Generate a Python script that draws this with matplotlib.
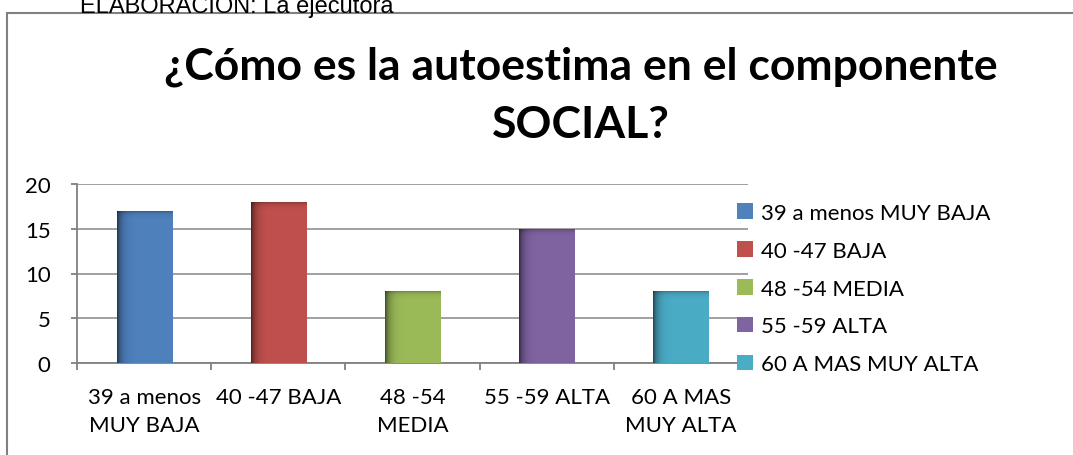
import numpy as np
import matplotlib
matplotlib.use("Agg")
import matplotlib.pyplot as plt
from matplotlib.patches import Rectangle
from matplotlib.colors import to_rgb

# data
categories = ["39 a menos\nMUY BAJA", "40 -47 BAJA", "48 -54\nMEDIA", "55 -59 ALTA", "60 A MAS\nMUY ALTA"]
legend_labels = ["39 a menos MUY BAJA", "40 -47 BAJA", "48 -54 MEDIA", "55 -59 ALTA", "60 A MAS MUY ALTA"]
values = [17, 18, 8, 15, 8]
colors = ["#4F81BD", "#C0504D", "#9BBB59", "#8064A2", "#4BACC6"]
yticks = [0, 5, 10, 15, 20]

plt.rcParams['font.family'] = ['Lato', 'DejaVu Sans']

fig = plt.figure(figsize=(10.73, 4.56), dpi=100)

# outer frame of the chart
fig.patches.append(Rectangle((7 / 1073, -0.1), 1.2, 1 - 14 / 456 + 0.1, transform=fig.transFigure,
                             fill=False, edgecolor="#808080", lw=1.5))
# caption above the frame (cut by the page edge in the original)
fig.text(80 / 1073, 1 - 13 / 456, "ELABORACIÓN: La ejecutora", fontsize=17,
         family="Liberation Sans", va="baseline", ha="left")

fig.text(581 / 1073, 1 - 96 / 456, "¿Cómo es la autoestima en el componente\nSOCIAL?",
         fontsize=32, fontweight="bold", ha="center", va="center", linespacing=1.55)

ax = fig.add_axes([77 / 1073, 1 - 364 / 456, (748 - 77) / 1073, (364 - 185) / 456])
x = np.arange(len(values))
bars = ax.bar(x, values, width=0.41, color=colors, zorder=3)

# shading to imitate the bevelled bars
for b, c in zip(bars, colors):
    r, g, bl = to_rgb(c)
    n = 50
    xs = np.linspace(0, 1, n)
    shade = np.clip(1 - 0.55 * np.exp(-xs / 0.08), 0, 1)
    img = np.zeros((1, n, 4))
    img[0, :, 0] = r * shade
    img[0, :, 1] = g * shade
    img[0, :, 2] = bl * shade
    img[0, :, 3] = 1
    x0, w = b.get_x(), b.get_width()
    h = b.get_height()
    im = ax.imshow(img, extent=[x0, x0 + w, 0, h], aspect="auto", zorder=4)
    im.set_clip_path(b)
    # darker top edge
    top = np.zeros((n, 1, 4))
    ys = np.linspace(0, 1, n)
    top[:, 0, 3] = 0.45 * np.exp(-ys / 0.25)
    im2 = ax.imshow(top, extent=[x0, x0 + w, h - 0.9, h], aspect="auto", zorder=5)
    im2.set_clip_path(b)

ax.set_xlim(-0.5, len(values) - 0.5)
ax.set_ylim(0, 20)
ax.set_yticks(yticks)
ax.set_yticklabels([str(t) for t in yticks], fontsize=16)
ax.yaxis.grid(True, color="#999999", lw=1.3, zorder=0)
ax.set_xticks(x)
ax.set_xticklabels(categories, fontsize=16, linespacing=1.55)
ax.tick_params(axis="x", length=0, pad=17)
ax.set_xticks(np.arange(len(values) + 1) - 0.5, minor=True)
ax.tick_params(axis="x", which="minor", length=5, color="#808080", width=1.3)
ax.tick_params(axis="y", length=4, color="#808080", width=1.3, pad=15)
for s in ["top", "right"]:
    ax.spines[s].set_visible(False)
ax.spines["left"].set_color("#808080")
ax.spines["bottom"].set_color("#808080")
ax.spines["left"].set_linewidth(1.3)
ax.spines["bottom"].set_linewidth(1.3)

handles = [Rectangle((0, 0), 1, 1, facecolor=c) for c in colors]
fig.legend(handles, legend_labels, loc="upper left", bbox_to_anchor=(717 / 1073, 1 - 184 / 456),
           frameon=False, prop={"size": 16},
           handlelength=0.7, handleheight=0.7, handletextpad=0.4, labelspacing=0.8)

fig.savefig("out.png", dpi=100)
